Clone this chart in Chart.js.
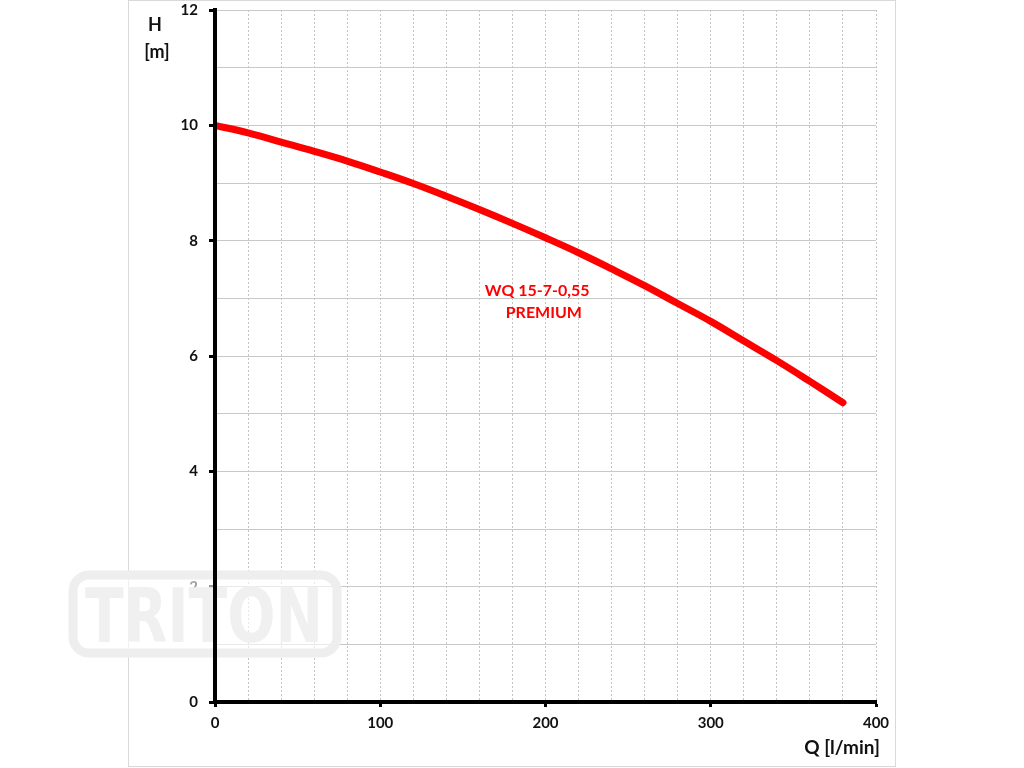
<!DOCTYPE html>
<html>
<head>
<meta charset="utf-8">
<script src="https://cdn.jsdelivr.net/npm/chart.js@4"></script>
<style>
  html, body { margin: 0; padding: 0; background: #fff; }
  #wrap { width: 1024px; height: 768px; position: relative; }
</style>
</head>
<body>
<div id="wrap"><canvas id="pumpChart"></canvas></div>
<script>
// pump curve: flow Q [l/min] vs head H [m]
const flowValues = [0, 20, 40, 60, 80, 100, 120, 140, 160, 180, 200, 220, 240, 260, 280, 300, 320, 340, 360, 380];
const headValues = [10.0, 9.87, 9.71, 9.55, 9.38, 9.19, 8.99, 8.77, 8.54, 8.30, 8.05, 7.79, 7.51, 7.22, 6.91, 6.60, 6.26, 5.92, 5.56, 5.19];
const xLabelValues = [0, 100, 200, 300, 400];
const yLabelValues = [0, 2, 4, 6, 8, 10, 12];
const seriesName = ["WQ 15-7-0,55", "PREMIUM"];

const FONT = "Lato, 'Open Sans', sans-serif";

// frame, axis titles, pump name and the watermark
const decorations = {
    id: "decorations",
    beforeDraw(chart) {
        const ctx = chart.ctx;
        ctx.save();
        ctx.strokeStyle = "#d9d9d9";
        ctx.lineWidth = 1;
        ctx.strokeRect(128.5, 0.5, 767, 766);
        ctx.restore();
    },
    beforeDatasetsDraw(chart) {
        // TRITON watermark sits over the grid
        const ctx = chart.ctx;
        ctx.save();
        ctx.beginPath();
        ctx.roundRect(73, 575, 264, 78, 16);
        ctx.fillStyle = "rgba(255,255,255,0.6)";
        ctx.fill();
        ctx.lineWidth = 9;
        ctx.strokeStyle = "#eeeeee";
        ctx.stroke();
        ctx.font = "bold 74px 'DejaVu Sans'";
        ctx.textAlign = "left";
        ctx.textBaseline = "alphabetic";
        ctx.fillStyle = "#f0f0f0";
        ctx.fillText("TRITON", 85, 642, 238);
        ctx.restore();
    },
    afterDraw(chart) {
        const ctx = chart.ctx;
        const x = chart.scales.x, y = chart.scales.y;
        ctx.save();
        ctx.fillStyle = "#111";
        ctx.font = "bold 18px " + FONT;
        ctx.textAlign = "center";
        ctx.textBaseline = "middle";
        ctx.fillText("H", 155, 25);
        ctx.fillText("[m]", 157, 52);
        ctx.font = "bold 19px " + FONT;
        ctx.textAlign = "right";
        ctx.fillText("Q [l/min]", 880, 748);

        ctx.fillStyle = "#ff0000";
        ctx.font = "bold 16px " + FONT;
        ctx.textAlign = "center";
        ctx.fillText(seriesName[0], x.getPixelForValue(195), y.getPixelForValue(7.13));
        ctx.fillText(seriesName[1], x.getPixelForValue(199), y.getPixelForValue(6.75));
        ctx.restore();
    }
};

const ctx = document.getElementById("pumpChart").getContext("2d");
new Chart(ctx, {
    type: "line",
    data: {
        datasets: [{
            label: seriesName.join(" "),
            data: flowValues.map((q, i) => ({ x: q, y: headValues[i] })),
            borderColor: "#ff0000",
            borderWidth: 7,
            borderCapStyle: "round",
            borderJoinStyle: "round",
            fill: false,
            tension: 0.4,
            pointRadius: 0
        }]
    },
    options: {
        responsive: true,
        maintainAspectRatio: false,
        animation: false,
        layout: { padding: { left: 0, right: 148, top: 10, bottom: 0 } },
        plugins: {
            legend: { display: false },
            tooltip: { enabled: false }
        },
        scales: {
            x: {
                type: "linear",
                min: 0,
                max: 400,
                afterFit: s => { s.height = 66; s.paddingLeft = 0; s.paddingRight = 0; },
                ticks: {
                    stepSize: 20,
                    autoSkip: false,
                    maxRotation: 0,
                    padding: 7,
                    color: "#111",
                    font: { family: FONT, size: 15, weight: "bold" },
                    callback: v => xLabelValues.includes(v) ? String(v) : ""
                },
                grid: {
                    color: "#c4c4c4",
                    lineWidth: 1,
                    tickLength: 5,
                    tickWidth: 3,
                    tickColor: c => xLabelValues.includes(c.tick && c.tick.value) ? "#000" : "rgba(0,0,0,0)"
                },
                border: { color: "#000", width: 4, dash: [2, 2], z: 1 }
            },
            y: {
                type: "linear",
                min: 0,
                max: 12,
                afterFit: s => { s.width = 215; s.paddingTop = 0; s.paddingBottom = 0; },
                ticks: {
                    stepSize: 1,
                    autoSkip: false,
                    padding: 11,
                    color: "#111",
                    font: { family: FONT, size: 15, weight: "bold" },
                    callback: v => yLabelValues.includes(v) ? String(v) : ""
                },
                grid: {
                    color: "#c8c8c8",
                    lineWidth: 1,
                    tickLength: 6,
                    tickWidth: 3,
                    tickColor: c => yLabelValues.includes(c.tick && c.tick.value) ? "#000" : "rgba(0,0,0,0)"
                },
                border: { color: "#000", width: 4, z: 1 }
            }
        }
    },
    plugins: [decorations]
});
</script>
</body>
</html>
